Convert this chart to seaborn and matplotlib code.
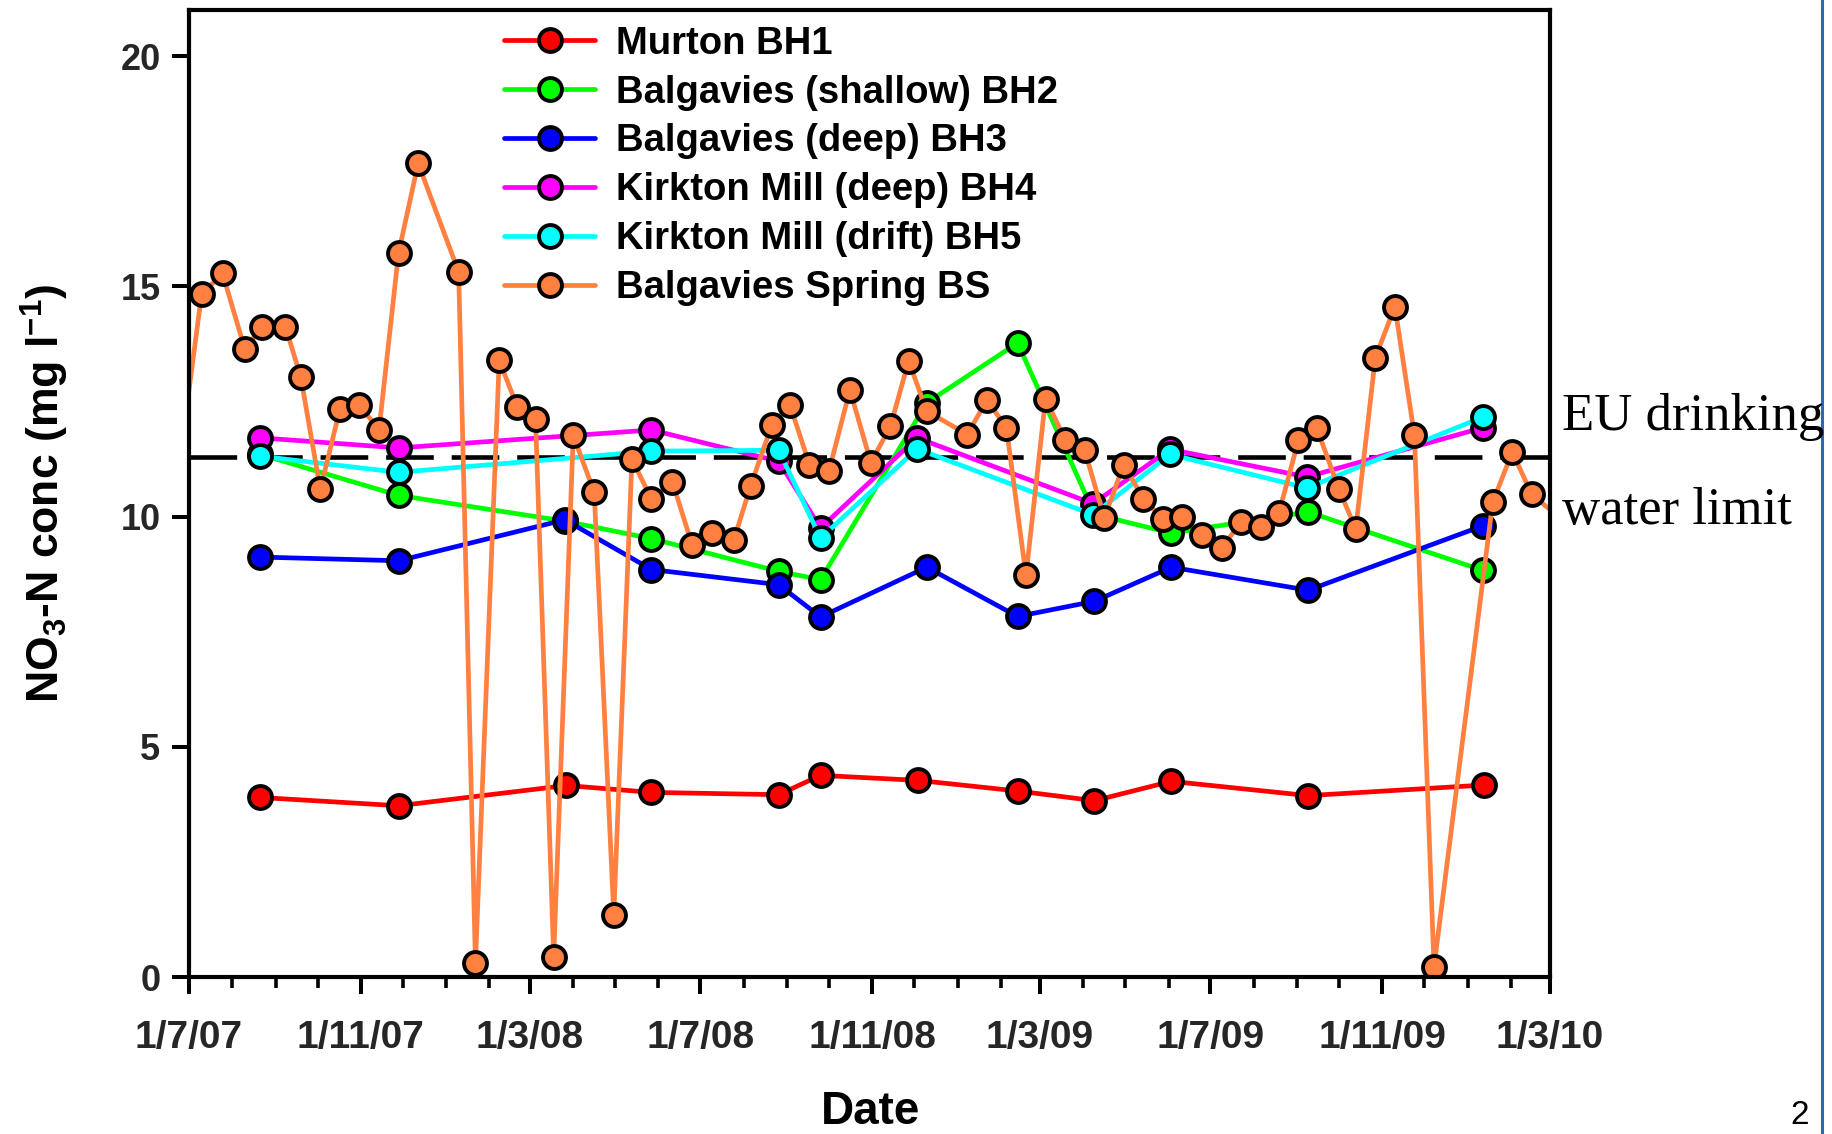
import matplotlib
matplotlib.use("Agg")
import matplotlib.pyplot as plt
import matplotlib.dates as mdates
from matplotlib.lines import Line2D
from matplotlib.ticker import FuncFormatter
import pandas as pd
import seaborn as sns

# ---- borehole / spring nitrate series (NO3-N, mg/l) ----
bh1_dates = ["2007-08-21", "2007-11-28", "2008-03-27", "2008-05-27", "2008-08-26", "2008-09-25",
             "2008-12-04", "2009-02-13", "2009-04-09", "2009-06-03", "2009-09-09", "2010-01-13"]
bh1_vals = [3.90, 3.72, 4.16, 4.01, 3.96, 4.38, 4.27, 4.04, 3.83, 4.25, 3.94, 4.17]

bh23_dates = ["2007-08-21", "2007-11-28", "2008-03-26", "2008-05-27", "2008-08-26", "2008-09-25",
              "2008-12-10", "2009-02-13", "2009-04-09", "2009-06-03", "2009-09-09", "2010-01-12"]
bh2_vals = [11.35, 10.46, 9.90, 9.52, 8.81, 8.63, 12.47, 13.77, 10.05, 9.64, 10.10, 8.83]
bh3_vals = [9.12, 9.04, 9.93, 8.85, 8.52, 7.82, 8.90, 7.83, 8.16, 8.90, 8.40, 9.80]

bh45_dates = ["2007-08-21", "2007-11-28", "2008-05-27", "2008-08-26", "2008-09-25",
              "2008-12-03", "2009-04-08", "2009-06-02", "2009-09-08", "2010-01-12"]
bh4_vals = [11.71, 11.49, 11.88, 11.20, 9.75, 11.71, 10.28, 11.46, 10.86, 11.93]
bh5_vals = [11.31, 10.96, 11.42, 11.44, 9.53, 11.47, 10.04, 11.35, 10.62, 12.16]

bs_dates = ["2007-06-15", "2007-07-10", "2007-07-25", "2007-08-10", "2007-08-22", "2007-09-08",
            "2007-09-19", "2007-10-03", "2007-10-17", "2007-10-31", "2007-11-14", "2007-11-28",
            "2007-12-12", "2008-01-10", "2008-01-22", "2008-02-08", "2008-02-21", "2008-03-05",
            "2008-03-18", "2008-04-01", "2008-04-16", "2008-04-30", "2008-05-13", "2008-05-27",
            "2008-06-11", "2008-06-25", "2008-07-09", "2008-07-25", "2008-08-06", "2008-08-21",
            "2008-09-03", "2008-09-17", "2008-10-01", "2008-10-16", "2008-10-31", "2008-11-14",
            "2008-11-27", "2008-12-10", "2009-01-08", "2009-01-22", "2009-02-05", "2009-02-19",
            "2009-03-05", "2009-03-19", "2009-04-02", "2009-04-16", "2009-04-30", "2009-05-14",
            "2009-05-28", "2009-06-11", "2009-06-25", "2009-07-09", "2009-07-23", "2009-08-06",
            "2009-08-19", "2009-09-02", "2009-09-15", "2009-10-01", "2009-10-13", "2009-10-27",
            "2009-11-10", "2009-11-24", "2009-12-08", "2010-01-19", "2010-02-02", "2010-02-16",
            "2010-03-14"]
bs_vals = [9.03, 14.83, 15.28, 13.63, 14.12, 14.12,
           13.03, 10.59, 12.33, 12.42, 11.88, 15.73,
           17.67, 15.31, 0.30, 13.39, 12.38, 12.12,
           0.43, 11.76, 10.53, 1.35, 11.24, 10.38,
           10.75, 9.39, 9.64, 9.50, 10.67, 11.98,
           12.43, 11.13, 10.99, 12.75, 11.17, 11.96,
           13.38, 12.29, 11.78, 12.53, 11.93, 8.72,
           12.56, 11.67, 11.44, 9.97, 11.13, 10.38,
           9.95, 9.99, 9.61, 9.32, 9.88, 9.78,
           10.08, 11.66, 11.93, 10.59, 9.73, 13.45,
           14.56, 11.76, 0.22, 10.31, 11.40, 10.48,
           9.82]

series_names = ["Murton BH1", "Balgavies (shallow) BH2", "Balgavies (deep) BH3",
                "Kirkton Mill (deep) BH4", "Kirkton Mill (drift) BH5", "Balgavies Spring BS"]
series_colors = ["#ff0000", "#00ff00", "#0000ff", "#ff00ff", "#00ffff", "#ff8040"]

eu_limit = 11.3
y_ticks = [0, 5, 10, 15, 20]

# ---- styling ----
sns.set_theme(style="white")
plt.rcParams["font.family"] = ["Liberation Sans", "DejaVu Sans"]
plt.rcParams["font.weight"] = "bold"
plt.rcParams["mathtext.fontset"] = "custom"
plt.rcParams["mathtext.rm"] = "Liberation Sans:bold"
plt.rcParams["mathtext.bf"] = "Liberation Sans:bold"
plt.rcParams["mathtext.it"] = "Liberation Sans:bold"
plt.rcParams["mathtext.default"] = "bf"

fig = plt.figure(figsize=(18.33, 11.34), dpi=100)
fig.patch.set_facecolor("white")
ax = fig.add_axes([0.1031, 0.1384, 0.7425, 0.8528])
ax.set_facecolor("white")

# EU limit reference line (drawn beneath the series)
ax.axhline(eu_limit, color="black", lw=3.3, linestyle=(0, (10.4, 3.9)), zorder=1.5)

data_sets = [(bh1_dates, bh1_vals), (bh23_dates, bh2_vals), (bh23_dates, bh3_vals),
             (bh45_dates, bh4_vals), (bh45_dates, bh5_vals), (bs_dates, bs_vals)]

for i, ((dates, vals), name, col) in enumerate(zip(data_sets, series_names, series_colors)):
    df = pd.DataFrame({"date": pd.to_datetime(dates), "conc": vals})
    sns.lineplot(data=df, x="date", y="conc", ax=ax, color=col, linewidth=3.4,
                 marker="o", markersize=16.5, mec="black", mew=2.8, mfc=col,
                 estimator=None, sort=True, label=name, zorder=2 + i * 0.1)

ax.set_xlim(pd.Timestamp("2007-07-01"), pd.Timestamp("2010-03-01"))
ax.set_ylim(0, 21)

ax.xaxis.set_major_locator(mdates.MonthLocator(bymonth=[3, 7, 11]))
ax.xaxis.set_minor_locator(mdates.MonthLocator())
ax.xaxis.set_major_formatter(FuncFormatter(
    lambda x, pos: (lambda d: f"{d.day}/{d.month}/{d:%y}")(mdates.num2date(x))))
ax.set_yticks(y_ticks)
ax.yaxis.set_major_formatter(FuncFormatter(lambda v, pos: f"{v:g}"))

for s in ax.spines.values():
    s.set_color("black")
    s.set_linewidth(3.0)
    s.set_visible(True)

ax.tick_params(axis="x", which="major", direction="out", length=12.2, width=2.9,
               color="black", labelsize=28, pad=19, bottom=True)
ax.tick_params(axis="x", which="minor", direction="out", length=8, width=2.6,
               color="black", bottom=True)
ax.tick_params(axis="y", which="major", direction="out", length=12.5, width=2.9,
               color="black", labelsize=26, pad=8, left=True)
ax.tick_params(axis="y", which="minor", left=False)

ax.set_ylabel(r"NO$_3$-N conc (mg l$^{-1}$)", fontsize=32, fontweight="bold", color="black")
ax.yaxis.set_label_coords(-0.087, 0.5)
ax.set_xlabel("Date", fontsize=33, fontweight="bold", color="black")
ax.xaxis.set_label_coords(0.501, -0.117)

leg = ax.legend(loc="upper left", bbox_to_anchor=(0.275, 0.9775),
                bbox_transform=fig.transFigure, frameon=False, fontsize=27.5,
                handlelength=2.38, handletextpad=0.54, labelspacing=0.34,
                borderpad=0, borderaxespad=0, numpoints=1)
for t in leg.get_texts():
    t.set_fontweight("bold")
    t.set_color("black")

# annotation for the reference line, outside the plotting frame
fig.text(0.8522, 1 - 430 / 1134, "EU drinking", family=["Liberation Serif", "DejaVu Serif"],
         fontweight="normal", fontsize=38, ha="left", va="baseline", color="black")
fig.text(0.8522, 1 - 524 / 1134, "water limit", family=["Liberation Serif", "DejaVu Serif"],
         fontweight="normal", fontsize=38, ha="left", va="baseline", color="black")

# page number and slide border
fig.text(0.982, 0.016, "2", fontweight="normal", fontsize=24, ha="center", va="center",
         color="black")
fig.add_artist(Line2D([0.994, 0.994], [0, 1], transform=fig.transFigure,
                      color="#3465b0", lw=2.2))

fig.savefig("out.png", dpi=100, facecolor="white")
